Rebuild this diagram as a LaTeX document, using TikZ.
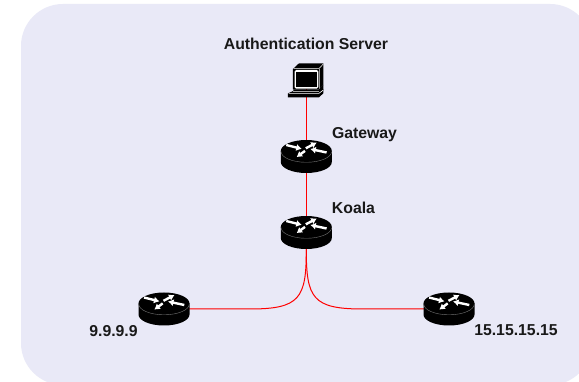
\documentclass[tikz,border=0pt]{standalone}
\usepackage{fontspec}
\usetikzlibrary{arrows.meta}
\setmainfont{Liberation Sans}
\definecolor{panel}{RGB}{233,233,247}
\definecolor{linkred}{RGB}{255,0,0}
\tikzset{
  x=1pt,y=-1pt,
  lbl/.style={font=\fontsize{15.8}{18}\selectfont\bfseries,text=black!90,inner sep=0pt,anchor=base},
  anchorpt/.style={inner sep=0pt,minimum size=0pt},
  link/.style={draw=linkred,line width=1pt},
  arw/.style={draw=white,line width=2.4pt,-{Latex[length=5.5pt,width=7pt]},shorten >=0pt},
  router/.pic={
    \fill[black] (-25.5,-5.5) -- (-25.5,5.5) arc[start angle=180,end angle=0,x radius=25.5,y radius=11] -- (25.5,-5.5) -- cycle;
    \fill[black] (0,-5.5) ellipse[x radius=25.5,y radius=11];
    \draw[black!55,line width=.4pt] (-25.3,-5) arc[start angle=180,end angle=0,x radius=25.3,y radius=10.8];
    \draw[arw] (-20,-11.5) -- (-4.5,-7.6);
    \draw[arw] (-0.5,-8.2) -- (10.5,-14);
    \draw[arw] (20.3,-4) -- (4,-7.5);
    \draw[arw] (-1.3,-5.6) -- (-9.7,0.6);
  },
  terminal/.pic={
    \begin{scope}[x=.3333pt,y=-.3333pt,shift={(-139,-150)}]
      \fill[black] (99,117) -- (117,100) -- (190,100) -- (190,165) -- (177,178) -- (99,178) -- cycle;
      \draw[white,line width=.5pt] (101,116) -- (177,116) -- (190,102);
      \draw[black!40,line width=.7pt] (178,116) -- (178,178);
      \fill[white,rounded corners=1.5pt] (104,120) rectangle (175,176);
      \fill[black] (109,125) rectangle (171,170);
      \fill[black] (100,178) -- (177,178) -- (190,165) -- (190,180) -- (177,187) -- (100,187) -- cycle;
      \fill[black] (84,190) -- (102,182) -- (177,182) -- (190,178) -- (190,190) -- (177,202) -- (84,202) -- cycle;
      \draw[white,line width=.6pt] (86,190) -- (177,190) -- (189,181);
      \draw[black!35,line width=.4pt] (100,185) -- (177,185);
    \end{scope}
  }
}
\begin{document}
\begin{tikzpicture}
\useasboundingbox (0,0) rectangle (579,382);
\fill[white] (0,0) rectangle (579,382);
\begin{scope}
\clip (0,0) rectangle (579,382);
\fill[panel,rounded corners=42pt] (21,4) rectangle (592,385);
\end{scope}
\node[anchorpt] (srv) at (306.3,80) {};
\node[anchorpt] (gw) at (306.3,156.5) {};
\node[anchorpt] (ko) at (306.3,232.5) {};
\node[anchorpt] (lf) at (164,309) {};
\node[anchorpt] (rt) at (449,309) {};
\coordinate (kb) at (306.3,250);
\coordinate (lj) at (250,309);
\coordinate (rj) at (362.6,309);
\path[link] (srv) -- (gw);
\path[link] (gw) -- (ko);
\path[link] (ko) -- (kb) .. controls (306.3,298) and (300,309) .. (lj) -- (lf);
\path[link] (ko) -- (kb) .. controls (306.3,298) and (312.6,309) .. (rj) -- (rt);
\pic at (srv) {terminal};
\pic at (gw) {router};
\pic at (ko) {router};
\pic at (lf) {router};
\pic at (rt) {router};
\node[lbl] (t1) at (306,50) {Authentication Server};
\node[lbl] (t2) at (364.5,139) {Gateway};
\node[lbl] (t3) at (353.5,214) {Koala};
\node[lbl] (t4) at (113.5,337) {9.9.9.9};
\node[lbl] (t5) at (516,336) {15.15.15.15};
\end{tikzpicture}
\end{document}
